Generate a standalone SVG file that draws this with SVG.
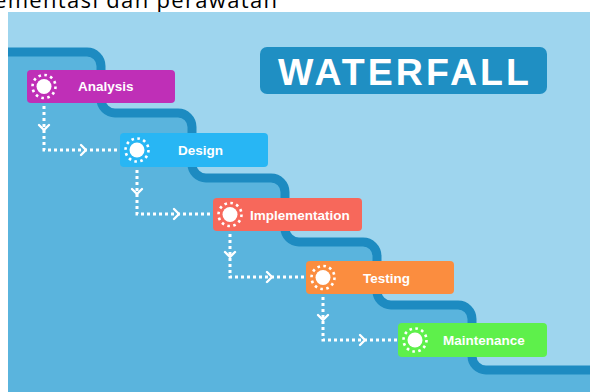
<svg xmlns="http://www.w3.org/2000/svg" xmlns:xlink="http://www.w3.org/1999/xlink" width="590" height="392" viewBox="0 0 590 392">
<style>
.lbl{font-family:"Liberation Sans",Arial,sans-serif;font-weight:bold;font-size:13.5px;fill:#ffffff}
.box{stroke:none}
.dots{fill:none;stroke:#ffffff;stroke-width:3;stroke-dasharray:3 3}
.chev{fill:none;stroke:#ffffff;stroke-width:2.4;stroke-linecap:round;stroke-linejoin:round}
</style>
<defs>
<g id="sun">
<circle r="7.5" fill="#ffffff"/>
<circle r="11.5" fill="none" stroke="#ffffff" stroke-width="2.6" stroke-dasharray="2.6 3.42"/>
</g>
</defs>
<rect width="590" height="392" fill="#ffffff"/>
<text x="-6" y="7.5" font-family="'Open Sans','Noto Sans',sans-serif" font-size="22" fill="#000000" textLength="283">ementasi dan perawatan</text>
<g id="background">
<rect x="8" y="12" width="582" height="380" fill="#9ed5ee"/>
<path d="M8 52 H87 A14 14 0 0 1 101 66 V99 A14 14 0 0 0 115 113 H178 A14 14 0 0 1 192 127 V164 A14 14 0 0 0 206 178 H271 A14 14 0 0 1 285 192 V228 A14 14 0 0 0 299 242 H363 A14 14 0 0 1 377 256 V291 A14 14 0 0 0 391 305 H458 A14 14 0 0 1 472 319 V356 A14 14 0 0 0 486 370 H590 V392 H8 Z" fill="#5ab4dd"/>
<path d="M8 52 H87 A14 14 0 0 1 101 66 V99 A14 14 0 0 0 115 113 H178 A14 14 0 0 1 192 127 V164 A14 14 0 0 0 206 178 H271 A14 14 0 0 1 285 192 V228 A14 14 0 0 0 299 242 H363 A14 14 0 0 1 377 256 V291 A14 14 0 0 0 391 305 H458 A14 14 0 0 1 472 319 V356 A14 14 0 0 0 486 370 H590" fill="none" stroke="#1d8bc1" stroke-width="9"/>
</g>
<g id="title">
<rect x="260" y="47" width="287" height="47" rx="7" fill="#1f8fc3"/>
<text x="278" y="85" font-family="'Liberation Sans',Arial,sans-serif" font-weight="bold" font-size="37.5" fill="#ffffff" textLength="251">WATERFALL</text>
</g>
<g id="connectors">
<path class="dots" d="M44 100 V150 H124"/>
<path class="chev" d="M39 125 L44 130 L49 125 M81 145 L86 150 L81 155"/>
<path class="dots" d="M137 164 V214 H217"/>
<path class="chev" d="M132 189 L137 194 L142 189 M174 209 L179 214 L174 219"/>
<path class="dots" d="M230 228 V277 H310"/>
<path class="chev" d="M225 252 L230 257 L235 252 M267 272 L272 277 L267 282"/>
<path class="dots" d="M323 291 V340 H403"/>
<path class="chev" d="M318 315 L323 320 L328 315 M360 335 L365 340 L360 345"/>
</g>
<g id="analysis">
<rect class="box" x="27" y="70" width="148" height="33" rx="4" fill="#bf2fb7"/>
<use xlink:href="#sun" x="44" y="86.5"/>
<text class="lbl" x="78" y="91">Analysis</text>
</g>
<g id="design">
<rect class="box" x="120" y="133" width="148" height="34" rx="4" fill="#28b6f4"/>
<use xlink:href="#sun" x="137" y="150"/>
<text class="lbl" x="178" y="155">Design</text>
</g>
<g id="implementation">
<rect class="box" x="213" y="198" width="149" height="33" rx="4" fill="#f7685b"/>
<use xlink:href="#sun" x="230" y="214.5"/>
<text class="lbl" x="250" y="219.5">Implementation</text>
</g>
<g id="testing">
<rect class="box" x="306" y="261" width="148" height="33" rx="4" fill="#fb8d3f"/>
<use xlink:href="#sun" x="323" y="277.5"/>
<text class="lbl" x="363" y="282.5">Testing</text>
</g>
<g id="maintenance">
<rect class="box" x="398" y="323" width="149" height="34" rx="4" fill="#5ef04b"/>
<use xlink:href="#sun" x="415" y="340"/>
<text class="lbl" x="443" y="345">Maintenance</text>
</g>
</svg>
